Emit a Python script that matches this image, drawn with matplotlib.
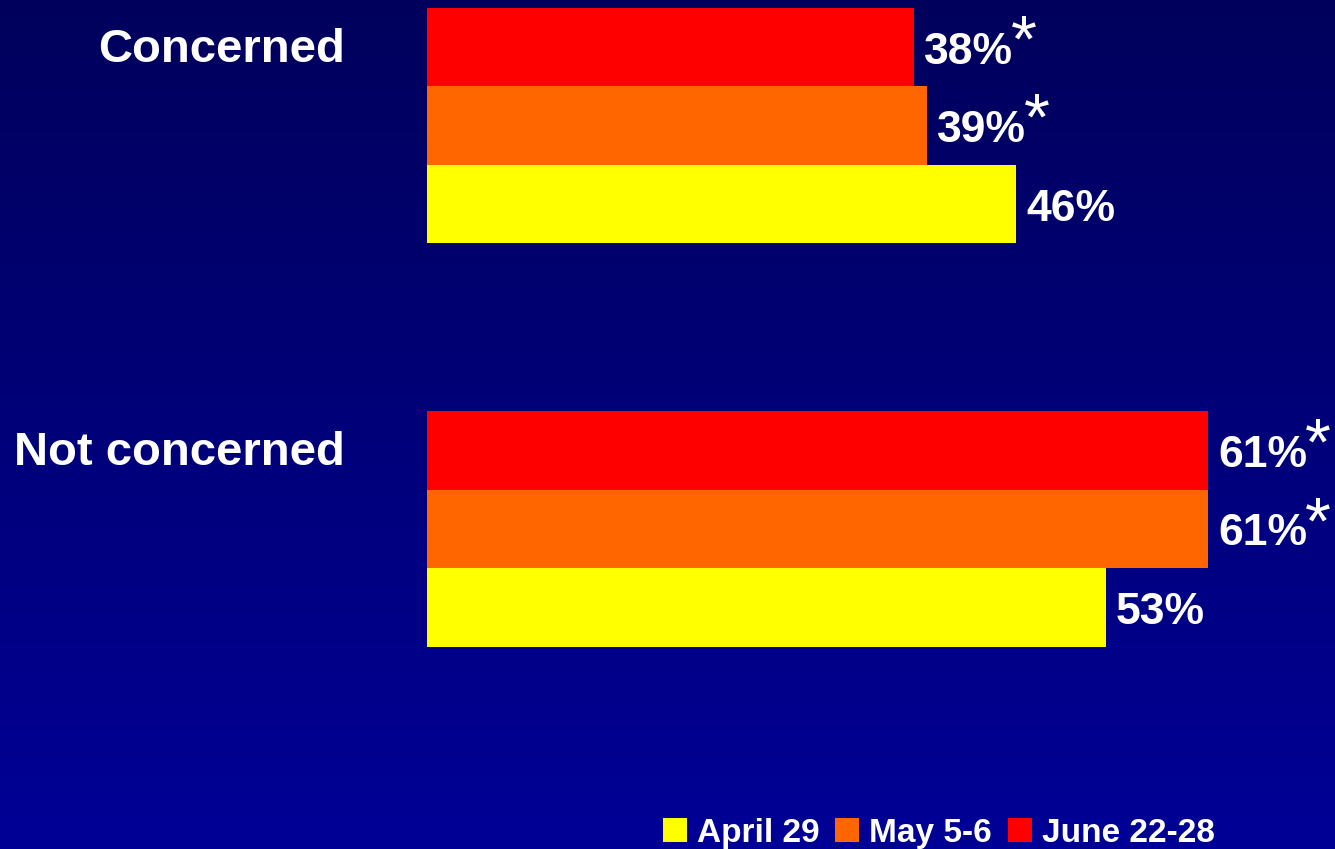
import numpy as np
import matplotlib
matplotlib.use('Agg')
import matplotlib.pyplot as plt

plt.rcParams['font.family'] = ['Liberation Sans', 'DejaVu Sans']

# data
categories = ['Concerned', 'Not concerned']
series_names = ['April 29', 'May 5-6', 'June 22-28']
april_29 = [46, 53]
may_5_6 = [39, 61]
june_22_28 = [38, 61]
# asterisk = significant change vs April 29
may_flag = [True, True]
june_flag = [True, True]
april_flag = [False, False]

colors = {'April 29': '#FFFF00', 'May 5-6': '#FF6600', 'June 22-28': '#FF0000'}
# row inside each group, top to bottom: June, May, April
row_offset = {'June 22-28': 0, 'May 5-6': 1, 'April 29': 2}
group_gap = 5.14

fig = plt.figure(figsize=(13.35, 8.49), dpi=100)

# background gradient (dark navy at top to blue at bottom)
bg = fig.add_axes([0, 0, 1, 1])
grad = np.linspace(0, 1, 256).reshape(-1, 1)
top = np.array([0, 0, 92]) / 255
bottom = np.array([0, 0, 150]) / 255
img = top + grad[..., None] * (bottom - top)
bg.imshow(img.reshape(256, 1, 3), aspect='auto', extent=(0, 1, 0, 1), origin='upper')
bg.axis('off')

ax = fig.add_axes([0, 0, 1, 1])
ax.patch.set_alpha(0)
ax.axis('off')

group_pos = np.arange(len(categories)) * group_gap

values = {'April 29': april_29, 'May 5-6': may_5_6, 'June 22-28': june_22_28}
flags = {'April 29': april_flag, 'May 5-6': may_flag, 'June 22-28': june_flag}

for name in series_names:
    y = group_pos + row_offset[name]
    ax.barh(y, values[name], height=1.0, color=colors[name], label=name)
    for yi, v, f in zip(y, values[name], flags[name]):
        t = ax.annotate(f'{v}%', xy=(v, yi), xytext=(10, -16.5), textcoords='offset pixels',
                        ha='left', va='baseline', color='white', fontsize=32, fontweight='bold')
        if f:
            ax.annotate('*', xy=(1, 1), xycoords=t, xytext=(-2, 18), textcoords='offset pixels',
                        ha='left', va='top', color='white', fontsize=48)

for g, cat in zip(group_pos, categories):
    ax.annotate(cat, xy=(0, g), xytext=(-82, -15), textcoords='offset pixels',
                ha='right', va='baseline', color='white', fontsize=34, fontweight='bold')

ax.set_xlim(-33.33, 70.88)
ax.set_ylim(10.217, -0.599)

leg = ax.legend(loc='lower right', bbox_to_anchor=(1215 / 1335, 0.0), bbox_transform=fig.transFigure,
                ncol=3, frameon=False, fontsize=24, handlelength=0.72, handleheight=0.72,
                handletextpad=0.3, columnspacing=0.48, borderpad=0, borderaxespad=0)
for txt in leg.get_texts():
    txt.set_color('white')
    txt.set_fontweight('bold')

fig.savefig('out.png', dpi=100)
